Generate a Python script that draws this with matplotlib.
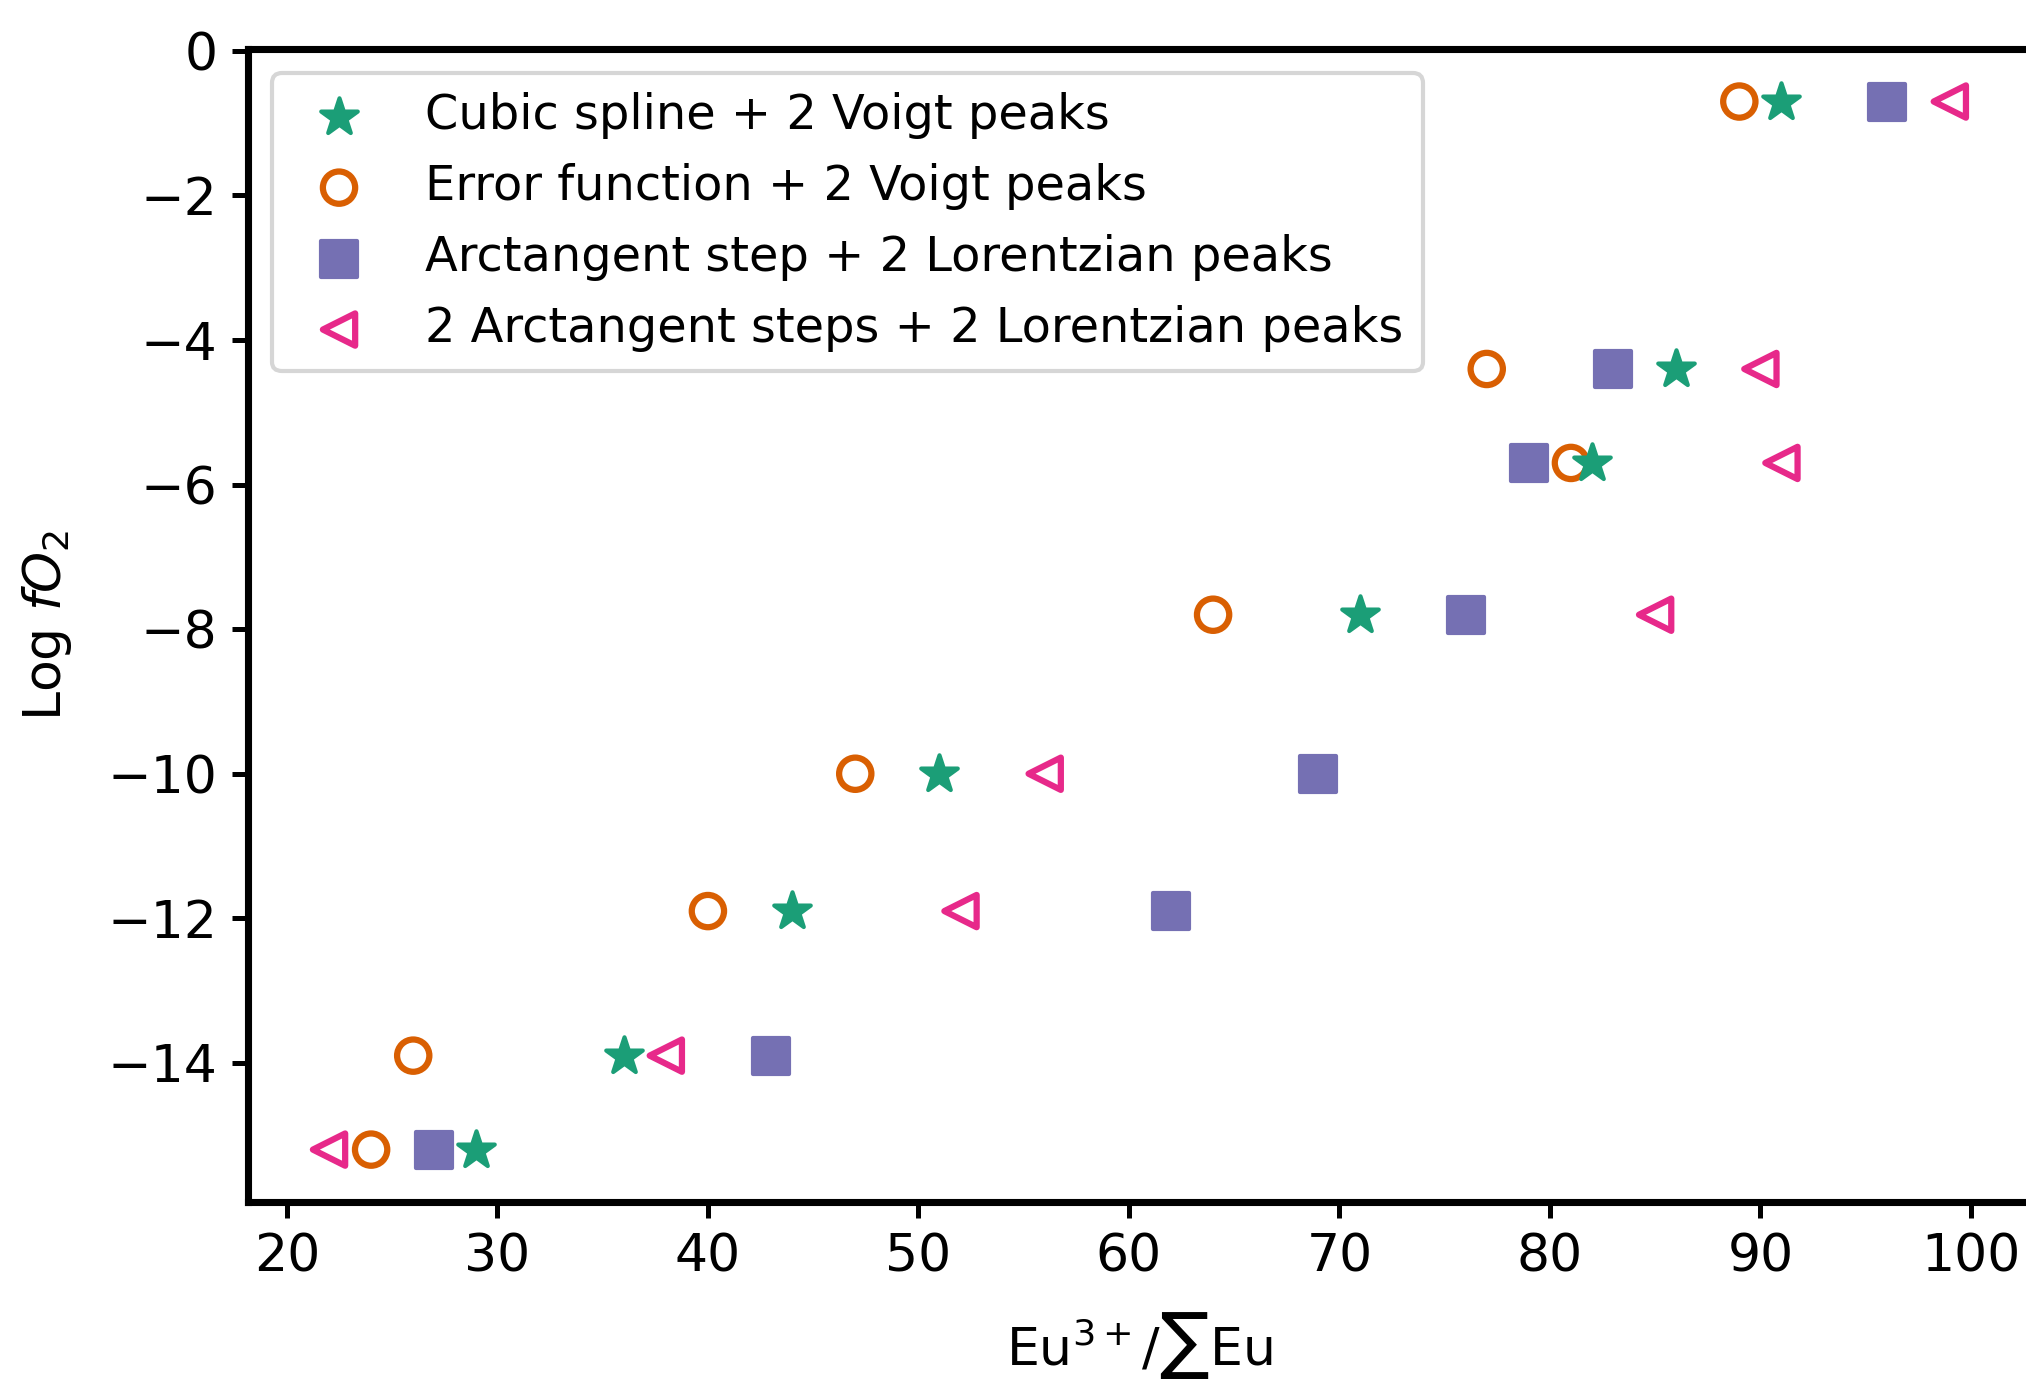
import matplotlib
matplotlib.use("Agg")
import matplotlib.pyplot as plt

# Log fO2 levels (same for every fit model)
log_fo2 = [-0.7, -4.4, -5.7, -7.8, -10.0, -11.9, -13.9, -15.2]

# Eu3+/sum Eu (%) for each fit model
cubic_voigt = [91, 86, 82, 71, 51, 44, 36, 29]
erf_voigt = [89, 77, 81, 64, 47, 40, 26, 24]
arctan_lorentz = [96, 83, 79, 76, 69, 62, 43, 27]
arctan2_lorentz = [99, 90, 91, 85, 56, 52, 38, 22]

labels = ["Cubic spline + 2 Voigt peaks",
          "Error function + 2 Voigt peaks",
          "Arctangent step + 2 Lorentzian peaks",
          "2 Arctangent steps + 2 Lorentzian peaks"]

green, orange, purple, pink = "#1b9e77", "#d95f02", "#7570b3", "#e7298a"

fig = plt.figure(figsize=(2026 / 300, 1384 / 300), dpi=300)
ax = fig.add_axes([0.1224, 0.1315, 0.880, 0.833])

# circles first so the stars sit on top of them
h_circ = ax.scatter(erf_voigt, log_fo2, marker="o", s=60, facecolors="none",
                    edgecolors=orange, linewidths=1.5)
h_star = ax.scatter(cubic_voigt, log_fo2, marker="*", s=85, color=green,
                    linewidths=1.0)
h_sq = ax.scatter(arctan_lorentz, log_fo2, marker="s", s=75, color=purple,
                  linewidths=1.0)
h_tri = ax.scatter(arctan2_lorentz, log_fo2, marker="<", s=60, facecolors="none",
                   edgecolors=pink, linewidths=1.5)

ax.set_xlabel(r"Eu$^{3+}$/$\sum$Eu", fontsize=12.5, labelpad=6.5)
ax.set_ylabel(r"Log $fO_2$", fontsize=12.5, labelpad=8)
ax.set_yticks([0, -2, -4, -6, -8, -10, -12, -14])
ax.tick_params(labelsize=12.5, width=1.2, length=3.8)
for sp in ax.spines.values():
    sp.set_linewidth(1.7)

ax.legend([h_star, h_circ, h_sq, h_tri], labels, loc="upper left",
          fontsize=11.5, borderaxespad=0.5)

fig.savefig("out.png", dpi=300)
